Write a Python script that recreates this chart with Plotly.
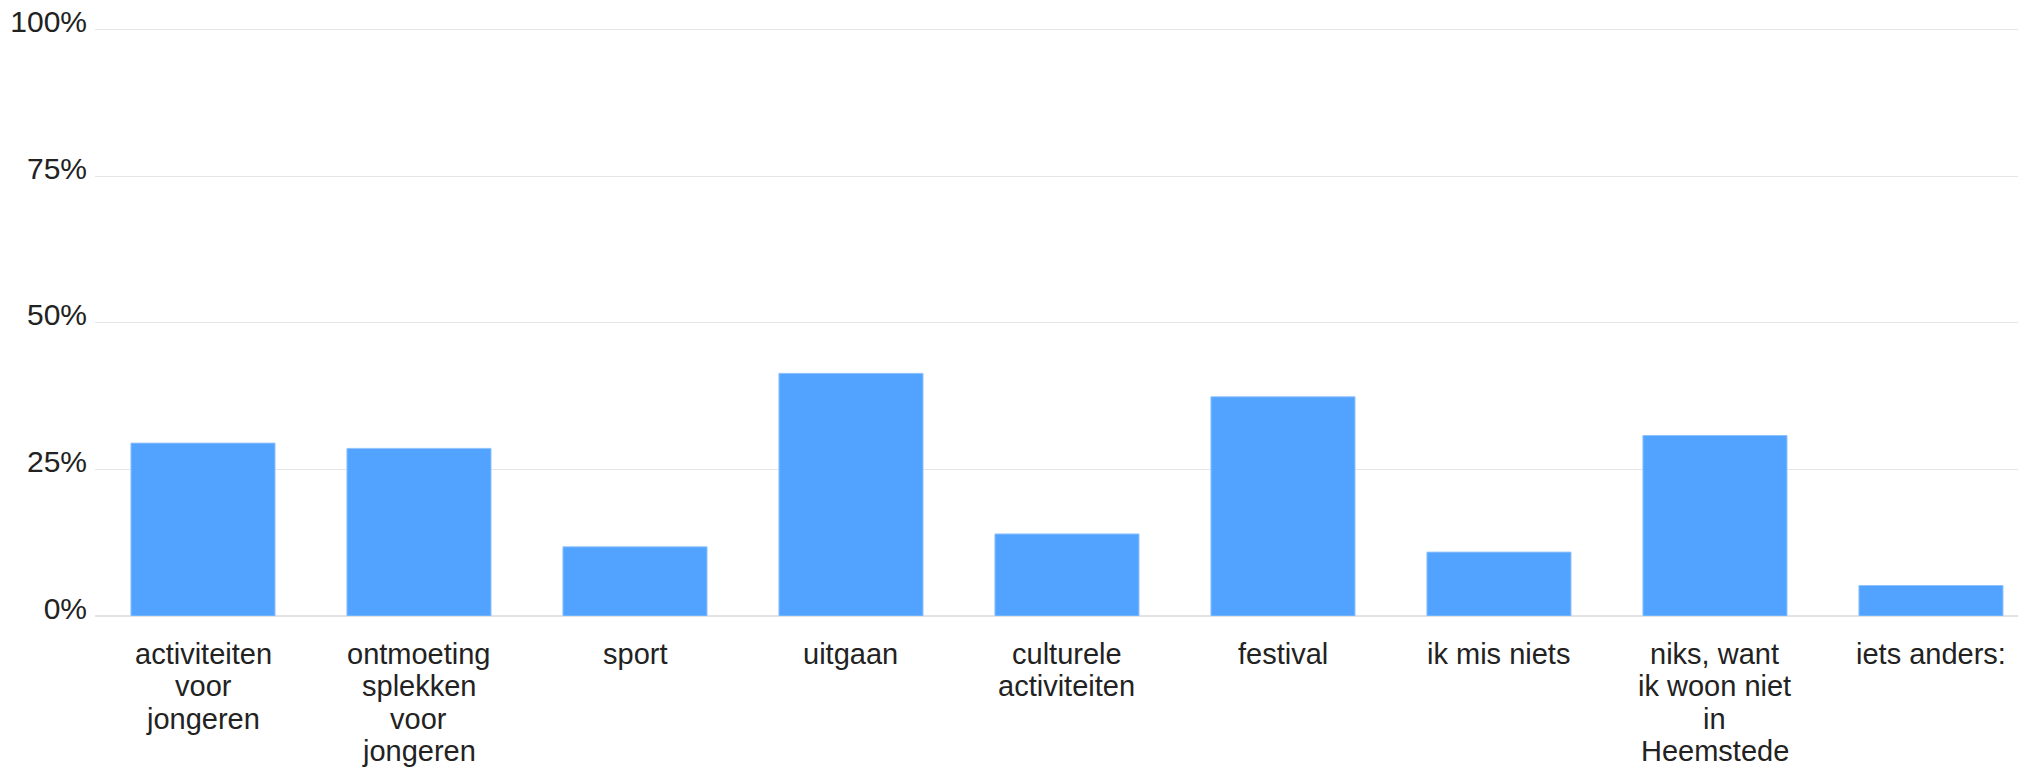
import plotly.graph_objects as go

categories = [
    "activiteiten<br>voor<br>jongeren",
    "ontmoeting<br>splekken<br>voor<br>jongeren",
    "sport",
    "uitgaan",
    "culturele<br>activiteiten",
    "festival",
    "ik mis niets",
    "niks, want<br>ik woon niet<br>in<br>Heemstede",
    "iets anders:",
]
values = [29.5, 28.6, 11.8, 41.4, 14.0, 37.4, 10.9, 30.8, 5.2]
y_ticks = [0, 25, 50, 75, 100]
y_tick_text = ["0%", "25%", "50%", "75%", "100%"]

x_pos = list(range(len(categories)))

fig = go.Figure(
    go.Bar(
        x=x_pos,
        y=values,
        marker=dict(color="#52A3FF", line=dict(color="#8FC3FF", width=1)),
        hoverinfo="skip",
    )
)

# category labels, one annotation per wrapped line
annotations = []
for xi, label in zip(x_pos, categories):
    for li, line in enumerate(label.split("<br>")):
        annotations.append(
            dict(
                x=xi,
                y=0,
                xref="x",
                yref="paper",
                text=line,
                showarrow=False,
                xanchor="center",
                yanchor="middle",
                yshift=-(38 + 32.3 * li),
                font=dict(size=29, color="#222222"),
            )
        )

# the page body adds an 8px offset; margins compensate for it
fig.update_layout(
    width=2026,
    height=772,
    margin=dict(l=87, r=8, t=18.6, b=164, autoexpand=False),
    paper_bgcolor="white",
    plot_bgcolor="white",
    bargap=0.333,
    showlegend=False,
    font=dict(family="Liberation Sans, Arial, sans-serif", size=28, color="#222222"),
    annotations=annotations,
)

fig.update_xaxes(
    range=[-0.5, 8.44],
    showticklabels=False,
    showgrid=False,
    showline=False,
    zeroline=False,
    ticks="",
    automargin=False,
)

fig.update_yaxes(
    range=[0, 100.5],
    tickmode="array",
    tickvals=y_ticks,
    ticktext=y_tick_text,
    showgrid=True,
    gridcolor="#E6E6E6",
    gridwidth=1,
    zeroline=True,
    zerolinecolor="#E3E3E3",
    zerolinewidth=2,
    showline=False,
    ticks="",
    ticklabelstandoff=7,
    ticklabelshift=-8,
    ticklabeloverflow="allow",
    tickfont=dict(size=30),
    automargin=False,
)

fig.write_html("out.html")
